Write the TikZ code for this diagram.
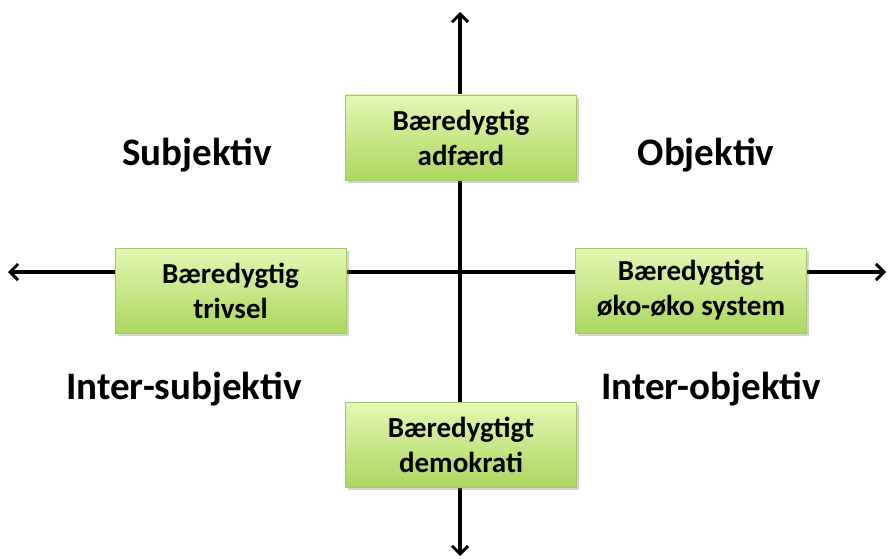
\documentclass[tikz,border=0pt]{standalone}
\usepackage{fontspec}
\setmainfont{Carlito}
\usetikzlibrary{arrows.meta,shadows}
\definecolor{boxtop}{HTML}{E4F7B4}
\definecolor{boxbot}{HTML}{ABD65E}
\definecolor{boxline}{HTML}{A6C86A}
\tikzset{
  axis/.style={line width=3.2pt,-{Straight Barb[length=8pt,width=16pt,line width=3pt]}},
  greenbox/.style={draw=boxline,line width=0.8pt,top color=boxtop,bottom color=boxbot,
    minimum width=231pt,minimum height=85pt,inner sep=0pt,align=center,
    font=\fontsize{29}{35}\selectfont\bfseries,
    drop shadow={opacity=0.35,shadow xshift=2.5pt,shadow yshift=-3pt}},
  quadlabel/.style={font=\fontsize{39}{46}\selectfont\bfseries,inner sep=0pt}
}
\begin{document}
\begin{tikzpicture}[x=1pt,y=-1pt]
\useasboundingbox (0,0) rectangle (888,559);
\coordinate (c) at (460,272);
\coordinate (top) at (460,12);
\coordinate (bot) at (460,556);
\coordinate (left) at (8,272);
\coordinate (right) at (886,272);
\draw[axis] (c) -- (top);
\draw[axis] (c) -- (bot);
\draw[axis] (c) -- (left);
\draw[axis] (c) -- (right);
\node[greenbox] (adf) at (461,137.5) {Bæredygtig\\adfærd};
\node[greenbox] (triv) at (230.5,290.5) {Bæredygtig\\trivsel};
\node[greenbox] (oko) at (691,290.5) {Bæredygtigt\\øko-øko system};
\node[greenbox] (demo) at (461,444.5) {Bæredygtigt\\demokrati};
\node[quadlabel] (subj) at (197,155) {Subjektiv};
\node[quadlabel] (obj) at (706,155) {Objektiv};
\node[quadlabel] (isubj) at (184,389) {Inter-subjektiv};
\node[quadlabel] (iobj) at (711,389) {Inter-objektiv};
\end{tikzpicture}
\end{document}
